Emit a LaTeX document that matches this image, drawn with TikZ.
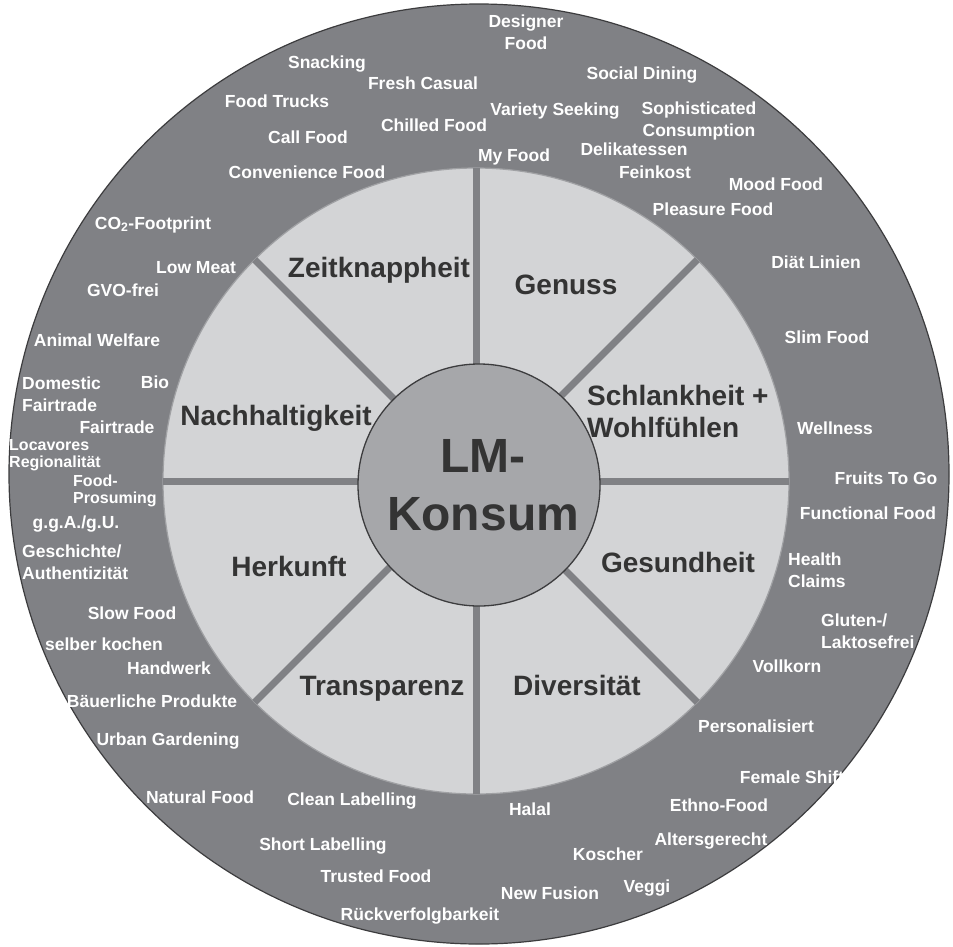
\documentclass[tikz,border=0pt]{standalone}
\usepackage{fontspec}
\setmainfont{Liberation Sans}
\definecolor{ring}{RGB}{128,129,133}
\definecolor{sector}{RGB}{211,212,214}
\definecolor{sectoredge}{RGB}{160,161,164}
\definecolor{hub}{RGB}{166,167,170}
\definecolor{edge}{RGB}{60,60,62}
\definecolor{ink}{RGB}{52,52,52}
\tikzset{
  tag/.style={text=white, font=\bfseries\fontsize{17.5}{21.5}\selectfont,
    inner sep=0pt, text height=12.6pt, text depth=0pt},
  tagm/.style={text=white, font=\bfseries\fontsize{17.5}{21.5}\selectfont,
    inner sep=0pt},
  tags/.style={text=white, font=\bfseries\fontsize{16}{17}\selectfont,
    inner sep=0pt, align=left, anchor=west},
  cat/.style={text=ink, font=\bfseries\fontsize{28}{32}\selectfont,
    inner sep=0pt, text height=20.2pt, text depth=0pt},
  divider/.style={ring, line width=7pt},
}
\begin{document}
\begin{tikzpicture}[x=1pt,y=-1pt]
\useasboundingbox (0,0) rectangle (953,946);
\fill[white] (0,0) rectangle (953,946);

% outer ring
\coordinate (oc) at (479,474);
\fill[ring] (oc) circle[radius=470pt];
\draw[edge, line width=1.2pt] (oc) circle[radius=470pt];

% light sectors
\coordinate (sc) at (476,481);
\fill[sector] (sc) circle[radius=313pt];
\draw[sectoredge, line width=1.2pt] (sc) circle[radius=313pt];
\foreach \a in {0,45,...,315}
  \draw[divider] (sc) -- ++(\a:313pt);

% hub
\coordinate (hc) at (479,485);
\fill[hub] (hc) circle[radius=121pt];
\draw[edge, line width=1.3pt] (hc) circle[radius=121pt];
\node[text=ink, font=\bfseries\fontsize{48}{58}\selectfont, inner sep=0pt, align=center]
  (hublabel) at (483,485) {LM-\\Konsum};

% categories
\node[cat] (c1) at (379,267) {Zeitknappheit};
\node[cat] (c2) at (566,284) {Genuss};
\node[cat, text height=, text depth=, align=left, anchor=west] (c3) at (587,411) {Schlankheit +\\Wohlfühlen};
\node[cat] (c4) at (678,562) {Gesundheit};
\node[cat] (c5) at (577,685) {Diversität};
\node[cat] (c6) at (382,685) {Transparenz};
\node[cat] (c7) at (289,566) {Herkunft};
\node[cat] (c8) at (276,415) {Nachhaltigkeit};

% trend terms, top
\node[tagm, align=center] (t01) at (526,32) {Designer\\Food};
\node[tag] (t02) at (327,62) {Snacking};
\node[tag] (t03) at (423,83) {Fresh Casual};
\node[tag] (t04) at (277,101) {Food Trucks};
\node[tag] (t05) at (555,109) {Variety Seeking};
\node[tag] (t06) at (434,125) {Chilled Food};
\node[tag] (t07) at (308,137) {Call Food};
\node[tag] (t08) at (514,155) {My Food};
\node[tag] (t09) at (307,172) {Convenience Food};
\node[tag] (t10) at (642,73) {Social Dining};
\node[tagm, align=center] (t11) at (699,121) {Sophisticated\\Consumption};
\node[tag] (t12) at (634,149) {Delikatessen};
\node[tag] (t13) at (655,172) {Feinkost};
\node[tag] (t14) at (776,184) {Mood Food};
\node[tag] (t15) at (713,209) {Pleasure Food};

% right
\node[tag] (t16) at (816,262) {Diät Linien};
\node[tag] (t17) at (827,337) {Slim Food};
\node[tag] (t18) at (835,428) {Wellness};
\node[tag] (t19) at (886,478) {Fruits To Go};
\node[tag] (t20) at (868,513) {Functional Food};
\node[tagm, align=left, anchor=west] (t21) at (788,570) {Health\\Claims};
\node[tagm, align=left, anchor=west] (t22) at (821,631) {Gluten-/\\Laktosefrei};
\node[tag] (t23) at (787,666) {Vollkorn};
\node[tag] (t24) at (756,726) {Personalisiert};
\node[tag] (t25) at (792,777) {Female Shift};
\node[tag] (t26) at (719,805) {Ethno-Food};
\node[tag] (t27) at (711,839) {Altersgerecht};
\node[tag] (t28) at (608,854) {Koscher};
\node[tag] (t29) at (647,886) {Veggi};

% bottom
\node[tag] (t30) at (352,799) {Clean Labelling};
\node[tag] (t31) at (530,809) {Halal};
\node[tag] (t32) at (323,844) {Short Labelling};
\node[tag] (t33) at (376,876) {Trusted Food};
\node[tag] (t34) at (550,893) {New Fusion};
\node[tag] (t35) at (420,914) {Rückverfolgbarkeit};

% left
\node[tag] (t36) at (132,613) {Slow Food};
\node[tag] (t37) at (104,644) {selber kochen};
\node[tag] (t38) at (169,668) {Handwerk};
\node[tag] (t39) at (152,701) {Bäuerliche Produkte};
\node[tag] (t40) at (168,739) {Urban Gardening};
\node[tag] (t41) at (200,797) {Natural Food};
\node[tag] (t42) at (153,223) {CO\textsubscript{2}-Footprint};
\node[tag] (t43) at (196,267) {Low Meat};
\node[tag] (t44) at (123,290) {GVO-frei};
\node[tag] (t45) at (97,340) {Animal Welfare};
\node[tagm, align=left, anchor=west] (t46) at (22,394) {Domestic\\Fairtrade};
\node[tag] (t47) at (155,382) {Bio};
\node[tag] (t48) at (117,427) {Fairtrade};
\node[tags] (t49) at (9,455) {Locavores\\Regionalität};
\node[tags] (t50) at (73,491) {Food-\\Prosuming};
\node[tag] (t51) at (76,522) {g.g.A./g.U.};
\node[tagm, align=left, anchor=west] (t52) at (22,562) {Geschichte/\\Authentizität};
\end{tikzpicture}
\end{document}
